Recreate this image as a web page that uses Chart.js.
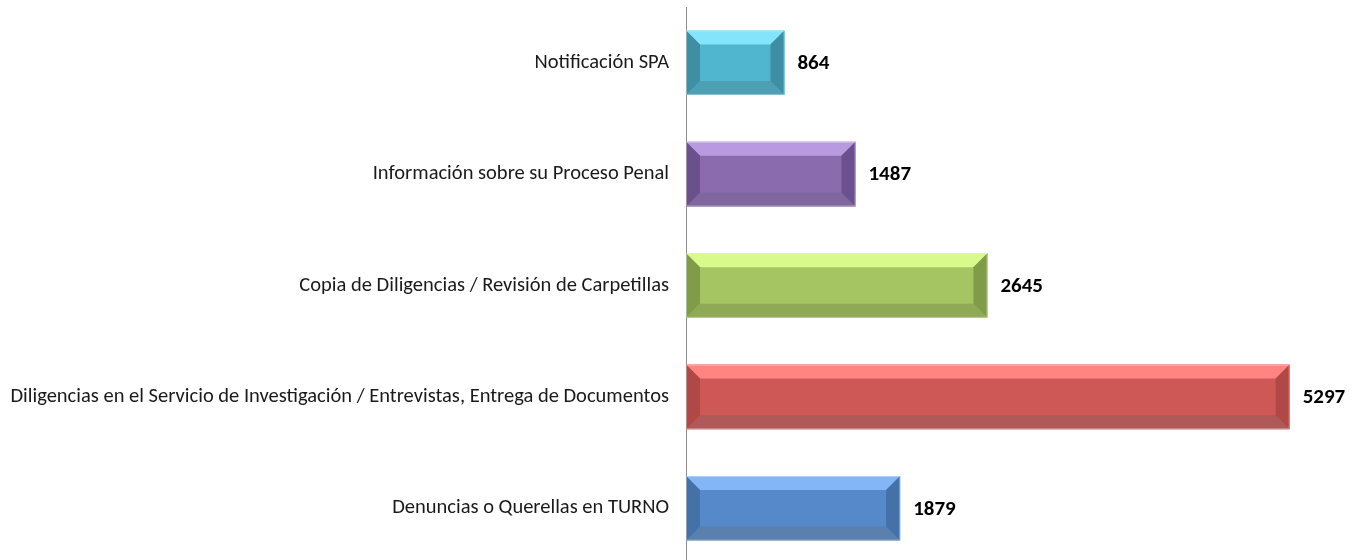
<!DOCTYPE html>
<html>
<head>
<meta charset="utf-8">
<script src="https://cdn.jsdelivr.net/npm/chart.js@4/dist/chart.umd.min.js"></script>
<style>
html,body{margin:0;padding:0;background:#fff;overflow:hidden;}
#wrap{position:relative;width:1362px;height:564px;}
</style>
</head>
<body>
<div id="wrap"><canvas id="c"></canvas></div>
<script>
const categories = [
  "Notificación SPA",
  "Información sobre su Proceso Penal",
  "Copia de Diligencias / Revisión de Carpetillas",
  "Diligencias en el Servicio de Investigación / Entrevistas, Entrega de Documentos",
  "Denuncias o Querellas en TURNO"
];
const values = [864, 1487, 2645, 5297, 1879];
const faceColors  = ["#50B6CF", "#8A6CAE", "#A5C462", "#CD5856", "#5589C9"];
const topColors   = ["#84E4FB", "#B79AE0", "#D8F98C", "#FF8482", "#84B6F7"];
const bottomColors= ["#4C9FB4", "#7F669F", "#8FA957", "#AF5A59", "#5A80AD"];
const sideColors  = ["#3E8FA4", "#6A508C", "#809C49", "#B04846", "#4471A7"];
const xMax = 5800;
const FONT = 'Carlito, Calibri, Lato, "Open Sans", sans-serif';

const bevelPlugin = {
  id: 'bevel',
  afterDatasetsDraw(chart) {
    const ctx = chart.ctx;
    const meta = chart.getDatasetMeta(0);
    meta.data.forEach((bar, i) => {
      const x0 = bar.base, x1 = bar.x;
      const y0 = bar.y - bar.height / 2, y1 = bar.y + bar.height / 2;
      const b = 14;
      ctx.save();
      const poly = (pts, col) => {
        ctx.beginPath();
        ctx.moveTo(pts[0][0], pts[0][1]);
        for (let k = 1; k < pts.length; k++) ctx.lineTo(pts[k][0], pts[k][1]);
        ctx.closePath();
        ctx.fillStyle = col;
        ctx.fill();
      };
      poly([[x0,y0],[x1,y0],[x1-b,y0+b],[x0+b,y0+b]], topColors[i]);
      poly([[x0,y1],[x1,y1],[x1-b,y1-b],[x0+b,y1-b]], bottomColors[i]);
      poly([[x0,y0],[x0+b,y0+b],[x0+b,y1-b],[x0,y1]], sideColors[i]);
      poly([[x1,y0],[x1-b,y0+b],[x1-b,y1-b],[x1,y1]], sideColors[i]);
      ctx.strokeStyle = 'rgba(255,255,255,0.35)';
      ctx.lineWidth = 1;
      ctx.strokeRect(x0 + 0.5, y0 + 0.5, x1 - x0 - 1, y1 - y0 - 1);
      ctx.fillStyle = '#000';
      ctx.font = 'bold 21px ' + FONT;
      ctx.textAlign = 'left';
      ctx.textBaseline = 'middle';
      ctx.fillText(String(values[i]), x1 + 13, bar.y + 1);
      ctx.restore();
    });
  }
};

new Chart(document.getElementById('c'), {
  type: 'bar',
  data: {
    labels: categories,
    datasets: [{
      data: values,
      backgroundColor: faceColors,
      borderWidth: 0,
      barPercentage: 0.58,
      categoryPercentage: 1.0
    }]
  },
  options: {
    indexAxis: 'y',
    responsive: true,
    maintainAspectRatio: false,
    animation: false,
    layout: { padding: { top: 7, right: 15, bottom: 0, left: 0 } },
    plugins: { legend: { display: false }, tooltip: { enabled: false } },
    scales: {
      x: {
        display: false,
        min: 0,
        max: xMax
      },
      y: {
        grid: { display: false, drawTicks: false },
        border: { display: true, color: '#8C8C8C', width: 1 },
        ticks: {
          color: '#1a1a1a',
          padding: 17,
          font: { family: FONT, size: 20.5 }
        },
        afterFit(scale) {
          scale.width = 686;
          scale.paddingTop = 0;
          scale.paddingBottom = 0;
        }
      }
    }
  },
  plugins: [bevelPlugin]
});
</script>
</body>
</html>
